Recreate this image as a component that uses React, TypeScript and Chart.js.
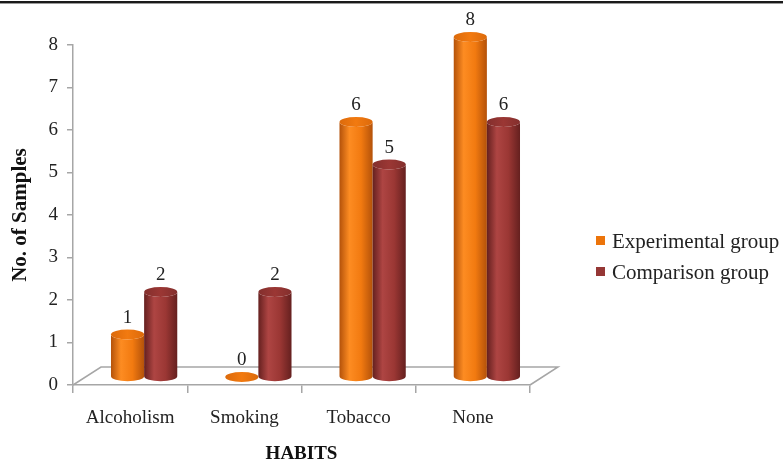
import React, { useEffect, useRef } from 'react';
import { Chart, registerables } from 'chart.js';

Chart.register(...registerables);

// ---- data ----
const categories = ['Alcoholism', 'Smoking', 'Tobacco', 'None'];
const experimentalGroup = [1, 0, 6, 8];
const comparisonGroup = [2, 2, 5, 6];
const seriesNames = ['Experimental group', 'Comparison group'];
const yMin = 0;
const yMax = 8;
const yStep = 1;

const SERIF = "'Liberation Serif', 'Times New Roman', serif";
const TEXT = '#222222';
const AXIS = '#a6a6a6';

// cylinder shading per series
const palettes = [
  { swatch: '#EC740A', edge: '#B4520A', light: '#FD8C22', mid: '#F27A10', top: '#DC6A0B' },
  { swatch: '#953735', edge: '#65201F', light: '#AE4543', mid: '#9B3734', top: '#832F2D' },
];

// 3D depth of the floor, and where the cylinders stand inside it
const FLOOR_DX = 28;
const FLOOR_DY = -18;
const BAR_DX = 14;
const BAR_DY = -8;

const cylinderPlugin = {
  id: 'cylinders',
  beforeDatasetsDraw(chart: any) {
    const { ctx, chartArea } = chart;
    ctx.save();

    // floor outline (front edge is the x axis)
    ctx.strokeStyle = AXIS;
    ctx.lineWidth = 1.5;
    ctx.beginPath();
    ctx.moveTo(chartArea.left, chartArea.bottom);
    ctx.lineTo(chartArea.left + FLOOR_DX, chartArea.bottom + FLOOR_DY);
    ctx.lineTo(chartArea.right + FLOOR_DX, chartArea.bottom + FLOOR_DY);
    ctx.lineTo(chartArea.right, chartArea.bottom);
    ctx.stroke();

    const labels: { x: number; y: number; text: string }[] = [];

    chart.data.datasets.forEach((ds: any, di: number) => {
      const meta = chart.getDatasetMeta(di);
      const pal = palettes[di];
      meta.data.forEach((bar: any, i: number) => {
        const p = bar.getProps(['x', 'y', 'base', 'width'], true);
        const cx = p.x + BAR_DX;
        const top = p.y + BAR_DY;
        const base = p.base + BAR_DY;
        const rx = p.width / 2;
        const ry = p.width * 0.15;
        const l = cx - rx;
        const r = cx + rx;

        if (base - top > 0.5) {
          const g = ctx.createLinearGradient(l, 0, r, 0);
          g.addColorStop(0, pal.edge);
          g.addColorStop(0.3, pal.light);
          g.addColorStop(0.65, pal.mid);
          g.addColorStop(1, pal.edge);
          ctx.fillStyle = g;
          ctx.beginPath();
          ctx.moveTo(l, top);
          ctx.lineTo(l, base);
          ctx.ellipse(cx, base, rx, ry, 0, Math.PI, 0, true);
          ctx.lineTo(r, top);
          ctx.ellipse(cx, top, rx, ry, 0, 0, Math.PI, false);
          ctx.closePath();
          ctx.fill();
        }
        const tg = ctx.createLinearGradient(l, 0, r, 0);
        tg.addColorStop(0, pal.top);
        tg.addColorStop(0.5, pal.mid);
        tg.addColorStop(1, pal.top);
        ctx.fillStyle = tg;
        ctx.beginPath();
        ctx.ellipse(cx, top, rx, ry, 0, 0, Math.PI * 2);
        ctx.fill();

        labels.push({ x: cx, y: top - ry - 7, text: String(ds.data[i]) });
      });
    });

    ctx.fillStyle = TEXT;
    ctx.font = `19px ${SERIF}`;
    ctx.textAlign = 'center';
    ctx.textBaseline = 'alphabetic';
    labels.forEach((lb) => ctx.fillText(lb.text, lb.x, lb.y));

    ctx.restore();
    return false;
  },
  afterDraw(chart: any) {
    const { ctx, chartArea, width } = chart;
    ctx.save();
    // rule across the top of the figure
    ctx.fillStyle = '#1a1a1a';
    ctx.fillRect(0, 1, width, 2);
    ctx.fillStyle = '#9a9a9a';
    ctx.fillRect(0, 3, width, 1);

    // legend
    const lx = chartArea.right + 66;
    const rows = [241, 272];
    ctx.font = `21px ${SERIF}`;
    ctx.textAlign = 'left';
    ctx.textBaseline = 'middle';
    chart.data.datasets.forEach((ds: any, di: number) => {
      const y = rows[di];
      ctx.fillStyle = palettes[di].swatch;
      ctx.fillRect(lx, y - 5, 9, 9);
      ctx.fillStyle = TEXT;
      ctx.fillText(ds.label, lx + 16, y + 1);
    });
    ctx.restore();
  },
};

export default function App() {
  const canvasRef = useRef<HTMLCanvasElement | null>(null);

  useEffect(() => {
    const canvas = canvasRef.current;
    if (!canvas) return;
    const chart = new Chart(canvas, {
      type: 'bar',
      data: {
        labels: categories,
        datasets: [
          {
            label: seriesNames[0],
            data: experimentalGroup,
            backgroundColor: palettes[0].swatch,
            categoryPercentage: 0.58,
            barPercentage: 1,
          },
          {
            label: seriesNames[1],
            data: comparisonGroup,
            backgroundColor: palettes[1].swatch,
            categoryPercentage: 0.58,
            barPercentage: 1,
          },
        ],
      },
      options: {
        responsive: false,
        animation: false,
        devicePixelRatio: 1,
        layout: { padding: { left: 0, right: 253, top: 45, bottom: 0 } },
        plugins: {
          legend: { display: false },
          tooltip: { enabled: false },
        },
        scales: {
          x: {
            type: 'category',
            offset: true,
            grid: {
              display: true,
              drawOnChartArea: false,
              drawTicks: true,
              tickLength: 8,
              color: AXIS,
              lineWidth: 1.5,
              offset: true,
            },
            border: { display: true, color: AXIS, width: 1.5 },
            ticks: { font: { family: SERIF, size: 19 }, color: TEXT, padding: 14 },
            title: {
              display: true,
              text: 'HABITS',
              font: { family: SERIF, size: 19, weight: 'bold', lineHeight: 1 },
              color: '#111',
              padding: { top: 0, bottom: -1 },
            },
            afterFit: (s: any) => {
              s.height = 78;
            },
          },
          y: {
            min: yMin,
            max: yMax,
            ticks: {
              stepSize: yStep,
              font: { family: SERIF, size: 19 },
              color: TEXT,
              padding: 9,
            },
            grid: {
              drawOnChartArea: false,
              drawTicks: true,
              tickLength: 6,
              color: AXIS,
              lineWidth: 1.5,
            },
            border: { display: true, color: AXIS, width: 1.5 },
            title: {
              display: true,
              text: 'No. of Samples',
              font: { family: SERIF, size: 21, weight: 'bold', lineHeight: 1.2 },
              color: '#111',
              padding: { top: 8, bottom: 0 },
            },
            afterFit: (s: any) => {
              s.width = 73;
            },
          },
        },
      },
      plugins: [cylinderPlugin],
    } as any);
    return () => chart.destroy();
  }, []);

  return (
    <div style={{ position: 'absolute', left: 0, top: 0, width: 783, height: 463, background: '#fff' }}>
      <canvas ref={canvasRef} width={783} height={463} style={{ display: 'block' }} />
    </div>
  );
}
